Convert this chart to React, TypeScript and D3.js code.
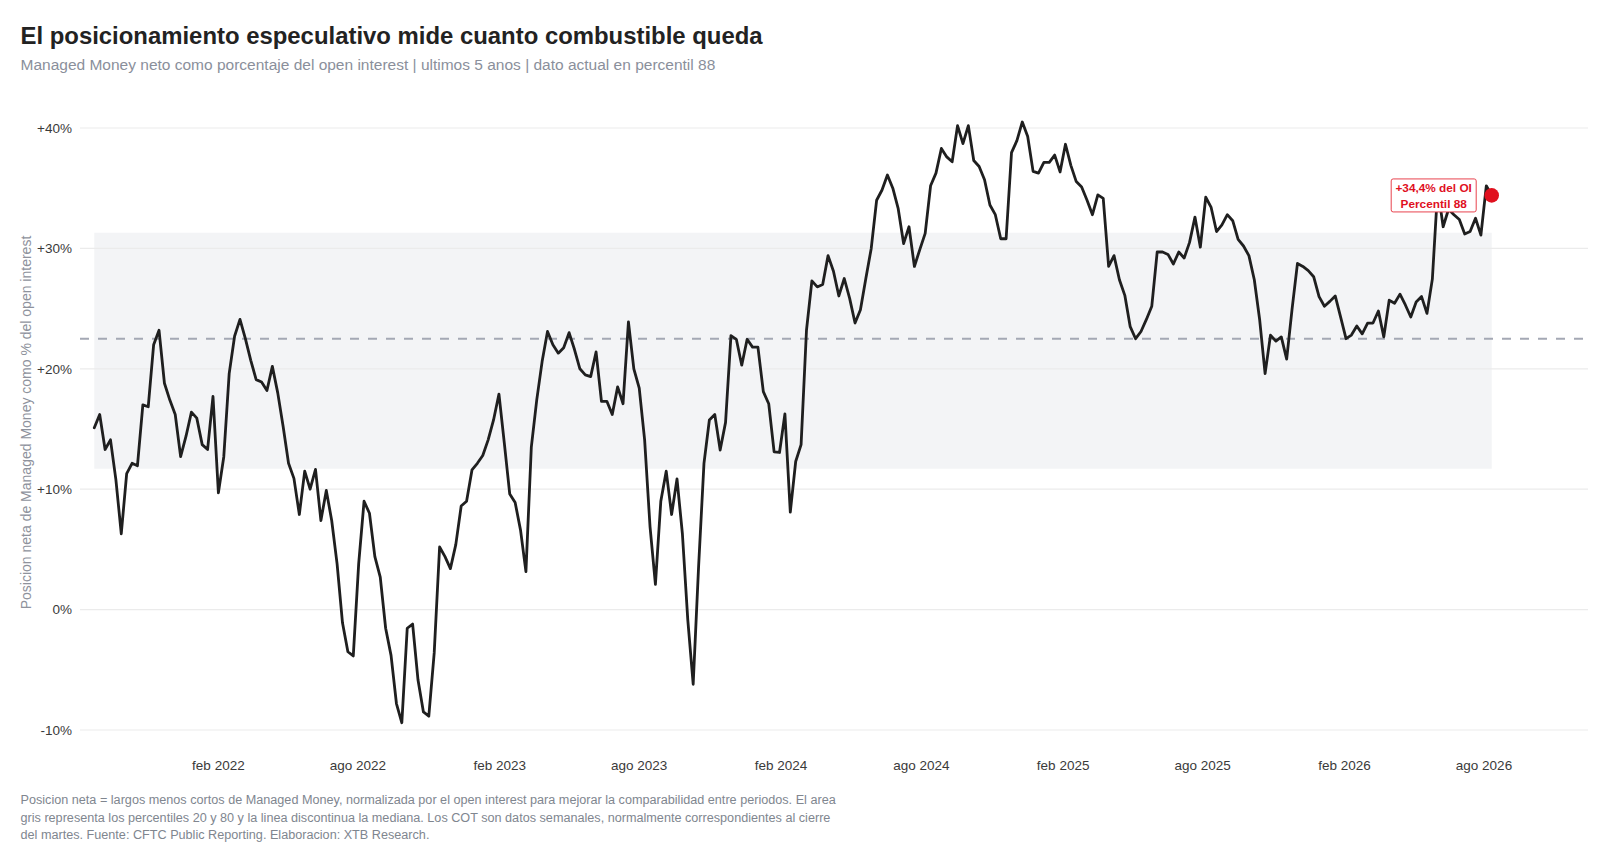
import React from "react";
import * as d3 from "d3";

const TITLE = "El posicionamiento especulativo mide cuanto combustible queda";
const SUBTITLE = "Managed Money neto como porcentaje del open interest | ultimos 5 anos | dato actual en percentil 88";
const Y_TITLE = "Posicion neta de Managed Money como % del open interest";
const FOOTER = [
  "Posicion neta = largos menos cortos de Managed Money, normalizada por el open interest para mejorar la comparabilidad entre periodos. El area",
  "gris representa los percentiles 20 y 80 y la linea discontinua la mediana. Los COT son datos semanales, normalmente correspondientes al cierre",
  "del martes. Fuente: CFTC Public Reporting. Elaboracion: XTB Research.",
];

// weekly series (Tuesdays), first report date
const START_DATE = "2021-08-24";
const netPct: number[] = [
  15.1, 16.2, 13.3, 14.1, 10.8, 6.3, 11.3, 12.15, 11.95, 17.0,
  16.85, 22.0, 23.2, 18.8, 17.4, 16.2, 12.7, 14.4, 16.4, 15.9,
  13.7, 13.3, 17.7, 9.7, 12.7, 19.6, 22.7, 24.1, 22.5, 20.7,
  19.1, 18.9, 18.2, 20.2, 18.0, 15.2, 12.15, 10.9, 7.9, 11.5,
  10.0, 11.65, 7.4, 9.9, 7.4, 3.8, -1.1, -3.5, -3.85, 3.8,
  9.0, 8.0, 4.4, 2.7, -1.55, -3.8, -7.8, -9.4, -1.55, -1.2,
  -5.85, -8.5, -8.85, -3.6, 5.2, 4.4, 3.4, 5.4, 8.6, 9.0,
  11.6, 12.15, 12.8, 14.1, 15.75, 17.9, 13.8, 9.6, 8.9, 6.6,
  3.15, 13.5, 17.4, 20.6, 23.1, 22.0, 21.3, 21.75, 23.0, 21.6,
  20.0, 19.5, 19.35, 21.4, 17.3, 17.3, 16.2, 18.5, 17.1, 23.9,
  20.0, 18.4, 14.1, 6.9, 2.1, 9.0, 11.5, 7.9, 10.85, 6.3,
  -0.85, -6.2, 3.55, 12.15, 15.75, 16.2, 13.25, 15.55, 22.75, 22.45,
  20.3, 22.45, 21.8, 21.8, 18.1, 17.1, 13.1, 13.05, 16.25, 8.1,
  12.3, 13.7, 23.2, 27.3, 26.8, 27.0, 29.4, 28.1, 26.05, 27.5,
  25.85, 23.8, 24.9, 27.5, 30.0, 34.0, 34.85, 36.1, 35.0, 33.3,
  30.4, 31.8, 28.5, 29.9, 31.25, 35.2, 36.25, 38.3, 37.6, 37.2,
  40.2, 38.7, 40.2, 37.3, 36.8, 35.7, 33.6, 32.8, 30.8, 30.8,
  37.95, 38.95, 40.5, 39.3, 36.4, 36.25, 37.15, 37.15, 37.75, 36.35,
  38.65, 36.9, 35.55, 35.1, 34.0, 32.8, 34.45, 34.15, 28.5, 29.4,
  27.4, 26.1, 23.5, 22.5, 23.1, 24.1, 25.2, 29.7, 29.7, 29.5,
  28.7, 29.7, 29.2, 30.5, 32.6, 30.1, 34.25, 33.4, 31.4, 31.95,
  32.8, 32.3, 30.75, 30.2, 29.4, 27.4, 24.05, 19.6, 22.8, 22.3,
  22.65, 20.8, 24.95, 28.75, 28.5, 28.15, 27.65, 26.0, 25.2, 25.6,
  26.05, 24.3, 22.5, 22.8, 23.55, 22.9, 23.8, 23.8, 24.8, 22.65,
  25.7, 25.45, 26.2, 25.3, 24.3, 25.55, 26.0, 24.6, 27.45, 35.0,
  31.8, 33.25, 32.8, 32.4, 31.2, 31.4, 32.5, 31.1, 35.2, 34.4,
];

const P20 = 11.7;
const P80 = 31.3;
const MEDIAN = 22.5;
const CURRENT_LABEL = ["+34,4% del OI", "Percentil 88"];

const Y_TICKS = [-10, 0, 10, 20, 30, 40];
const X_TICKS = [
  "2022-02-01", "2022-08-01", "2023-02-01", "2023-08-01", "2024-02-01",
  "2024-08-01", "2025-02-01", "2025-08-01", "2026-02-01", "2026-08-01",
];
const MONTHS_ES = ["ene", "feb", "mar", "abr", "may", "jun", "jul", "ago", "sep", "oct", "nov", "dic"];

const W = 1616;
const H = 857;
const FONT = "'Liberation Sans', Arial, Helvetica, sans-serif";

const parse = (s: string) => {
  const [y, m, d] = s.split("-").map(Number);
  return new Date(Date.UTC(y, m - 1, d));
};

export default function App() {
  const start = parse(START_DATE);
  const data = netPct.map((v, i) => ({
    date: new Date(start.getTime() + i * 7 * 86400000),
    v,
  }));
  const first = data[0];
  const last = data[data.length - 1];

  const x = d3.scaleUtc().domain([first.date, last.date]).range([94.3, 1491.7]);
  const y = d3.scaleLinear().domain([-10, 40]).range([730, 128]);

  const line = d3
    .line<{ date: Date; v: number }>()
    .x((d) => x(d.date))
    .y((d) => y(d.v));

  const gridX0 = 80;
  const gridX1 = 1588;

  const fmtY = (v: number) => (v > 0 ? `+${v}%` : `${v}%`);
  const fmtX = (s: string) => {
    const d = parse(s);
    return `${MONTHS_ES[d.getUTCMonth()]} ${d.getUTCFullYear()}`;
  };

  const lx = x(last.date);
  const ly = y(last.v);
  const boxW = 85;
  const boxH = 33;
  const boxX = lx - 100.5;
  const boxY = ly - 16.5;

  return (
    <svg
      width={W}
      height={H}
      viewBox={`0 0 ${W} ${H}`}
      style={{ position: "absolute", left: 0, top: 0, background: "#fff" }}
      fontFamily={FONT}
    >
      <rect x={0} y={0} width={W} height={H} fill="#ffffff" />
      <text x={20.5} y={44} fontSize={23.9} fontWeight={700} fill="#222222">
        {TITLE}
      </text>
      <text x={20.5} y={69.5} fontSize={15.5} fill="#8a8f9b">
        {SUBTITLE}
      </text>

      {/* percentile band */}
      <rect
        x={x(first.date)}
        y={y(P80)}
        width={x(last.date) - x(first.date)}
        height={y(P20) - y(P80)}
        fill="#f3f4f6"
      />

      {/* grid */}
      {Y_TICKS.map((t) => (
        <line key={t} x1={gridX0} x2={gridX1} y1={y(t)} y2={y(t)} stroke="#ebebeb" strokeWidth={1.2} />
      ))}
      {Y_TICKS.map((t) => (
        <text key={"l" + t} x={72} y={y(t)} dy="0.35em" textAnchor="end" fontSize={13.5} fill="#3a3a3a">
          {fmtY(t)}
        </text>
      ))}

      {/* median */}
      <line
        x1={gridX0}
        x2={gridX1}
        y1={y(MEDIAN)}
        y2={y(MEDIAN)}
        stroke="#a4a8b4"
        strokeWidth={2}
        strokeDasharray="9 9"
      />

      {X_TICKS.map((t) => (
        <text key={t} x={x(parse(t))} y={769.5} textAnchor="middle" fontSize={13.5} fill="#3a3a3a">
          {fmtX(t)}
        </text>
      ))}

      <text
        transform={`translate(30.5, 422.5) rotate(-90)`}
        textAnchor="middle"
        fontSize={14}
        fill="#8e929c"
      >
        {Y_TITLE}
      </text>

      <path
        d={line(data) || ""}
        fill="none"
        stroke="#1f1f1f"
        strokeWidth={2.8}
        strokeLinejoin="round"
        strokeLinecap="round"
      />

      {/* current value */}
      <circle cx={lx} cy={ly} r={7.3} fill="#e0101e" />
      <rect
        x={boxX}
        y={boxY}
        width={boxW}
        height={boxH}
        rx={2}
        fill="#ffffff"
        stroke="#e8434e"
        strokeWidth={1}
      />
      <text x={boxX + boxW / 2} y={boxY + 13} textAnchor="middle" fontSize={11.8} fontWeight={700} fill="#e0101e">
        {CURRENT_LABEL[0]}
      </text>
      <text x={boxX + boxW / 2} y={boxY + 29} textAnchor="middle" fontSize={11.8} fontWeight={700} fill="#e0101e">
        {CURRENT_LABEL[1]}
      </text>

      {FOOTER.map((s, i) => (
        <text key={i} x={20.5} y={804 + i * 17.5} fontSize={12.65} fill="#80868f">
          {s}
        </text>
      ))}
    </svg>
  );
}
